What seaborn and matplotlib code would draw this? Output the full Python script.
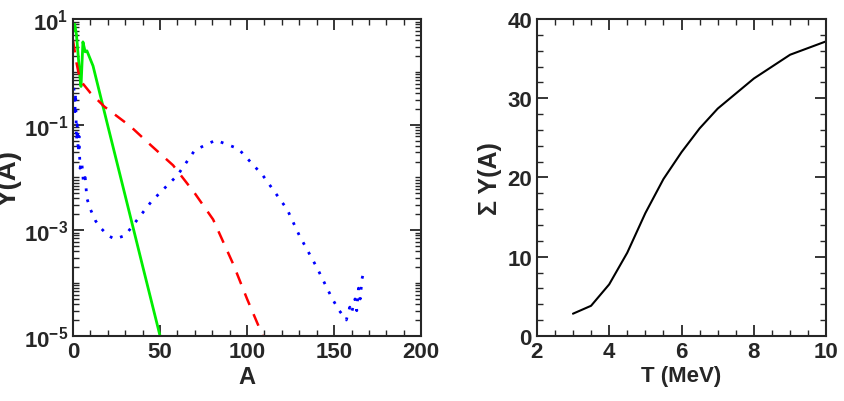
import matplotlib
matplotlib.use("Agg")
import matplotlib.pyplot as plt
import seaborn as sns
from matplotlib.ticker import LogLocator, NullFormatter, MultipleLocator

# Left panel: yields vs mass number
green_a = [0.5, 1, 2, 3, 4, 4.6, 5.7, 7, 8, 11.5, 20, 30, 40, 50]
green_y = [6.0, 8.0, 5.0, 2.0, 0.8, 0.53, 3.7, 2.4, 2.5, 1.3, 0.095, 4.5e-3, 2.1e-4, 1e-5]
red_a = [0, 2, 4, 10, 18, 33, 45, 57.5, 70, 80.5, 92, 100, 109]
red_y = [4.0, 1.5, 0.7, 0.4, 0.22, 0.093, 0.04, 0.017, 5e-3, 1.6e-3, 2.3e-4, 5e-5, 1e-5]
blue_a = [0.5, 1, 1.5, 2, 2.5, 3, 3.5, 4, 5, 6, 7, 8, 10, 13, 16, 20, 24, 30, 37, 45, 52, 60, 70, 82, 95, 109, 123, 130, 140, 149, 153, 157, 159, 160, 162, 163, 164, 165, 166, 167]
blue_y = [0.5, 0.15, 0.4, 0.05, 0.1, 0.03, 0.06, 0.015, 0.02, 8e-3, 0.01, 4e-3, 2.5e-3, 1.5e-3, 1.1e-3, 8e-4, 6.8e-4, 8e-4, 1.6e-3, 3.5e-3, 6e-3, 0.011, 0.033, 0.051, 0.035, 0.011, 2.5e-3, 8e-4, 2e-4, 5e-5, 3e-5, 2e-5, 3.5e-5, 2.7e-5, 5e-5, 3e-5, 8e-5, 5e-5, 1.2e-4, 1.6e-4]

# Right panel: summed yield vs temperature
temp = [3, 3.5, 4, 4.5, 5, 5.5, 6, 6.5, 7, 8, 9, 10]
sum_y = [2.8, 3.8, 6.5, 10.5, 15.5, 19.8, 23.2, 26.2, 28.7, 32.5, 35.5, 37.2]

sns.set_style("ticks")
plt.rcParams["font.family"] = "Liberation Sans"
plt.rcParams["font.weight"] = "bold"
plt.rcParams["axes.linewidth"] = 1.5

fig = plt.figure(figsize=(8.44, 4.02), dpi=100)
ax1 = fig.add_axes([0.0865, 0.162, 0.4125, 0.788])
ax2 = fig.add_axes([0.636, 0.162, 0.343, 0.788])

sns.lineplot(x=green_a, y=green_y, ax=ax1, color="#00ee00", lw=2, sort=False)
sns.lineplot(x=red_a, y=red_y, ax=ax1, color="red", lw=1.8, sort=False, linestyle=(0, (5, 4)))
sns.lineplot(x=blue_a, y=blue_y, ax=ax1, color="blue", lw=2, sort=False, linestyle=(0, (1, 3)))
ax1.set_yscale("log")
ax1.set_xlim(0, 200)
ax1.set_ylim(1e-5, 10)
ax1.set_yticks([1e-5, 1e-3, 1e-1, 10])
ax1.yaxis.set_minor_locator(LogLocator(base=10, subs=range(1, 10), numticks=20))
ax1.yaxis.set_minor_formatter(NullFormatter())
ax1.xaxis.set_major_locator(MultipleLocator(50))
ax1.xaxis.set_minor_locator(MultipleLocator(10))
ax1.set_xlabel("A", fontsize=17, fontweight="bold", labelpad=2)
ax1.set_ylabel("Y(A)", fontsize=20, fontweight="bold", labelpad=2)

sns.lineplot(x=temp, y=sum_y, ax=ax2, color="black", lw=1.5)
ax2.set_xlim(2, 10)
ax2.set_ylim(0, 40)
ax2.xaxis.set_major_locator(MultipleLocator(2))
ax2.xaxis.set_minor_locator(MultipleLocator(0.5))
ax2.yaxis.set_major_locator(MultipleLocator(10))
ax2.yaxis.set_minor_locator(MultipleLocator(2))
ax2.set_xlabel("T (MeV)", fontsize=16, fontweight="bold", labelpad=2)
ax2.set_ylabel("Σ Y(A)", fontsize=18, fontweight="bold")

for ax in (ax1, ax2):
    ax.tick_params(which="both", direction="in", top=True, right=True, labelsize=16)
    ax.tick_params(which="major", length=8, width=1.3)
    ax.tick_params(which="minor", length=4, width=1)

fig.savefig("out.png")
